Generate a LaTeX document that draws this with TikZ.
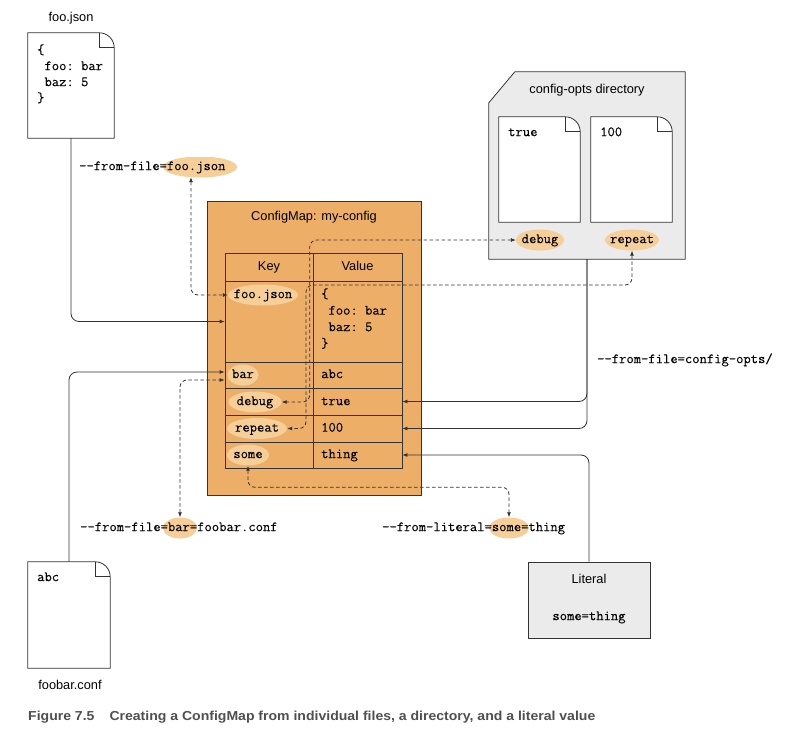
\documentclass[tikz,border=0pt]{standalone}
\usepackage{fontspec}
\setmainfont{Liberation Sans}
\setmonofont[FakeBold=0.08]{Latin Modern Mono}
\newfontfamily\capfont[FakeStretch=1.08]{Liberation Sans}
\usetikzlibrary{arrows.meta}
\definecolor{cmorange}{HTML}{EDAF68}
\definecolor{elpc}{HTML}{F6CE98}
\definecolor{boxgray}{HTML}{EBEBEB}
\definecolor{linec}{HTML}{333333}
\definecolor{capc}{HTML}{4F4F4F}
\newcommand\monof{\ttfamily\fontsize{14.2}{16.5}\selectfont}
\newcommand\sansf{\fontsize{12.8}{14}\selectfont}
\newcommand\mydogear[1]{%
  \path[draw=linec, line width=0.8pt, fill=white] (#1.north west) -- ([xshift=-15pt]#1.north east)
    .. controls +(8.3pt,0pt) and +(0pt,8.3pt) .. ([yshift=-15pt]#1.north east)
    -- (#1.south east) -- (#1.south west) -- cycle;
  \draw[linec, line width=0.8pt] ([xshift=-15pt]#1.north east) -- ([xshift=-15pt,yshift=-15pt]#1.north east) -- ([yshift=-15pt]#1.north east);}
\begin{document}
\begin{tikzpicture}[x=1pt,y=-1pt,
  every node/.style={font=\sansf, text=black, inner sep=0pt},
  sans/.style={font=\sansf, text height=9pt, text depth=2.7pt},
  mono/.style={font=\monof, text height=9.4pt, text depth=3.1pt},
  docbox/.style={minimum width=#1, inner sep=0pt, minimum height=105},
  cell/.style={draw=linec, line width=0.8pt, inner sep=0pt},
  elp/.style={inner sep=0pt, minimum width=#1, minimum height=21, font=\monof,
    text height=9.4pt, text depth=3.1pt,
    path picture={\fill[elpc] (path picture bounding box.center) ellipse [x radius={#1pt/2}, y radius=10.5pt];}},
  conn/.style={draw=linec, line width=0.8pt, rounded corners=8pt, -{Latex[length=5pt,width=4pt]}},
  dconn/.style={draw=linec, line width=0.8pt, rounded corners=7pt, dash pattern=on 3.5pt off 2.5pt,
    {Latex[length=5pt,width=4pt]}-{Latex[length=5pt,width=4pt]}}
]
\useasboundingbox (0,0) rectangle (801,744);

% ---- foo.json document
\node[sans] (foolabel) at (71,18) {foo.json};
\node[docbox=86] (foodoc) at (71,85.5) {};
\mydogear{foodoc}
\node[mono, anchor=west] (fd1) at (37,51) {\{};
\node[mono, anchor=west] (fd2) at (37,67) {~foo: bar};
\node[mono, anchor=west] (fd3) at (37,83) {~baz: 5};
\node[mono, anchor=west] (fd4) at (37,99) {\}};

% ---- foobar.conf document
\node[minimum width=82, minimum height=106] (bardoc) at (69,615) {};
\mydogear{bardoc}
\node[mono, anchor=west] (bd1) at (37,578) {abc};
\node[sans] (barlabel) at (70,686) {foobar.conf};

% ---- config-opts directory
\node[minimum width=196, minimum height=187] (dir) at (587,165.5) {};
\path[draw=linec, line width=0.8pt, fill=boxgray] (dir.south west) -- ([yshift=-31pt]dir.north west)
  -- ([xshift=26pt]dir.north west) -- (dir.north east) -- (dir.south east) -- cycle;
\node[sans] (dirtitle) at (587,90) {config-opts directory};
\node[docbox=81] (doc1) at (539.5,169.5) {};
\mydogear{doc1}
\node[docbox=81] (doc2) at (631.5,169.5) {};
\mydogear{doc2}
\node[mono, anchor=west] (d1t) at (508,133) {true};
\node[mono, anchor=west] (d2t) at (600,133) {100};
\node[elp=48] (dirdebug) at (540,240) {debug};
\node[elp=54] (dirrepeat) at (632,240) {repeat};

% ---- literal
\node[draw=linec, line width=0.8pt, fill=boxgray, minimum width=122, minimum height=76] (lit) at (589,600) {};
\node[sans] (littitle) at (589,580) {Literal};
\node[mono] (litval) at (589,617) {some=thing};

% ---- ConfigMap
\node[draw=linec, line width=0.8pt, fill=cmorange, minimum width=214, minimum height=294] (cm) at (314,348) {};
\node[sans] (cmtitle) at (314,217) {ConfigMap: my-config};

\node[cell, minimum width=88, minimum height=28] (khead) at (269,267) {};
\node[cell, minimum width=89, minimum height=28] (vhead) at (357.5,267) {};
\node[cell, minimum width=88, minimum height=81] (kfoocell) at (269,321.5) {};
\node[cell, minimum width=89, minimum height=81] (vfoocell) at (357.5,321.5) {};
\node[cell, minimum width=88, minimum height=26] (kbarcell) at (269,375) {};
\node[cell, minimum width=89, minimum height=26] (vbarcell) at (357.5,375) {};
\node[cell, minimum width=88, minimum height=27] (kdebugcell) at (269,401.5) {};
\node[cell, minimum width=89, minimum height=27] (vtruecell) at (357.5,401.5) {};
\node[cell, minimum width=88, minimum height=27] (krepeatcell) at (269,428.5) {};
\node[cell, minimum width=89, minimum height=27] (v100cell) at (357.5,428.5) {};
\node[cell, minimum width=88, minimum height=26] (ksomecell) at (269,455) {};
\node[cell, minimum width=89, minimum height=26] (vthingcell) at (357.5,455) {};

\node[sans] (keyh) at (269,267) {Key};
\node[sans] (valh) at (357.5,267) {Value};

\node[elp=70] (kfoo) at (263,295) {foo.json};
\node[elp=31] (kbar) at (243,375) {bar};
\node[elp=53] (kdebug) at (255,402) {debug};
\node[elp=60] (krepeat) at (257,428.5) {repeat};
\node[elp=42] (ksome) at (248,455) {some};

\node[mono, anchor=west] (vf1) at (321,295) {\{};
\node[mono, anchor=west] (vf2) at (321,311.5) {~foo: bar};
\node[mono, anchor=west] (vf3) at (321,328) {~baz: 5};
\node[mono, anchor=west] (vf4) at (321,344.5) {\}};
\node[mono, anchor=west] (vbar) at (321,375) {abc};
\node[mono, anchor=west] (vtrue) at (321,402) {true};
\node[mono, anchor=west] (v100) at (321,428.5) {100};
\node[mono, anchor=west] (vthing) at (321,455) {thing};

% ---- option labels
\node[elp=74, minimum height=20] (lfoo) at (200,167) {};
\node[mono, anchor=west] (tfoo) at (79,167) {{-}{-}from-file=foo.json};
\node[elp=34] (lbar) at (180,528) {};
\node[mono, anchor=west] (tbar) at (80,528) {{-}{-}from-file=bar=foobar.conf};
\node[elp=40] (lsome) at (509,528) {};
\node[mono, anchor=west] (tsome) at (382,528) {{-}{-}from-literal=some=thing};
\node[mono, anchor=west] (tdir) at (597,360) {{-}{-}from-file=config-opts/};

% ---- connectors
\coordinate (rpbend) at (306,285);
\draw[conn] (foodoc.south) |- (kfoocell.west);
\draw[conn] (bardoc.north) |- ([yshift=3pt]kbarcell.west);
\draw[conn] (dir.south) |- (vtruecell.east);
\draw[conn] (dir.south) |- (v100cell.east);
\draw[conn] (lit.north) |- (vthingcell.east);

\draw[dconn] ([xshift=-9pt]lfoo.south) |- (kfoo.west);
\draw[dconn] (lbar.north) |- ([yshift=-5pt]kbarcell.west);
\draw[dconn] (dirdebug.west) -| ([xshift=28pt]kdebug.east) -- (kdebug.east);
\draw[dconn] (dirrepeat.south) |- (rpbend) |- (krepeat.east);
\draw[dconn] (ksome.south) |- ([yshift=30pt]lsome.north) -- (lsome.north);

% ---- caption
\node[anchor=west, text=capc, font={\capfont\bfseries\fontsize{13}{15}\selectfont}] (caption) at (28,717)
  {Figure 7.5\hspace{15pt}Creating a ConfigMap from individual files, a directory, and a literal value};
\end{tikzpicture}
\end{document}
